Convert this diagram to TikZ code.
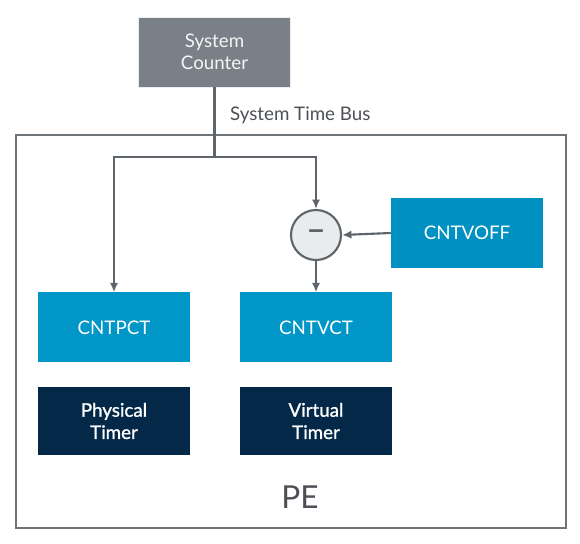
\documentclass[tikz,border=0pt]{standalone}
\usepackage{fontspec}
\setmainfont{Lato}
\usetikzlibrary{arrows.meta}
\definecolor{colGray}{RGB}{121,128,135}
\definecolor{colBlue}{RGB}{0,150,200}
\definecolor{colBlueDk}{RGB}{0,144,193}
\definecolor{colNavy}{RGB}{4,40,72}
\definecolor{colLine}{RGB}{95,100,106}
\definecolor{colCirc}{RGB}{232,236,236}
\tikzstyle{box}=[rectangle, minimum width=4.56cm, minimum height=2.1cm, inner sep=0pt, align=center, text=white, font=\fontsize{16}{19}\selectfont]
\tikzstyle{sysbox}=[box, fill=colGray, draw=white!85!colGray, line width=0.8pt, text=white!92!colGray]
\tikzstyle{regbox}=[box, fill=colBlue]
\tikzstyle{timerbox}=[box, fill=colNavy, minimum height=2.04cm, font=\fontsize{16}{19}\selectfont\addfontfeature{FakeBold=1.2}]
\tikzstyle{conn}=[line width=1.8pt, colLine]
\tikzstyle{arr}=[conn, -{Latex[length=8pt,width=7pt]}]

\begin{document}
\begin{tikzpicture}[x=0.03cm, y=-0.03cm]
			\useasboundingbox (0,0) rectangle (580,544);
			% PE frame
			\draw[line width=2pt, colLine!90!white] (16,135) rectangle (566,528);
			\node[font=\fontsize{27}{32}\selectfont, text=colLine!80!black] (pe) at (300,497) {PE};

			\node[sysbox] (syscnt) at (214.5,52) {System\\Counter};
			\node[regbox] (cntpct) at (114,327.5) {CNTPCT};
			\node[regbox] (cntvct) at (316,327.5) {CNTVCT};
			\node[regbox, fill=colBlueDk] (cntvoff) at (467,233) {CNTVOFF};
			\node[timerbox] (phys) at (114,421) {Physical\\Timer};
			\node[timerbox] (virt) at (316,421) {Virtual\\Timer};
			\node[circle, draw=colLine, line width=1.8pt, fill=colCirc, minimum size=1.5cm, inner sep=0pt, text=colLine, font=\fontsize{28}{28}\selectfont\addfontfeature{FakeBold=1}] (sub) at (316,235) {--};

			% System time bus
			\coordinate (bus) at (214.5,157);
			\node[anchor=west, text=colLine!80!black, font=\fontsize{16}{19}\selectfont] (buslbl) at (226,115) {System Time Bus};
			\draw[conn] (syscnt.south) -- (bus);
			\draw[arr] (bus) -| (cntpct.north);
			\draw[arr] (bus) -| (sub.north);
			% Offset
			\draw[arr] (cntvoff.west) -- (sub.east);
			\draw[arr] (sub.south) -- (cntvct.north);
		\end{tikzpicture}
\end{document}
